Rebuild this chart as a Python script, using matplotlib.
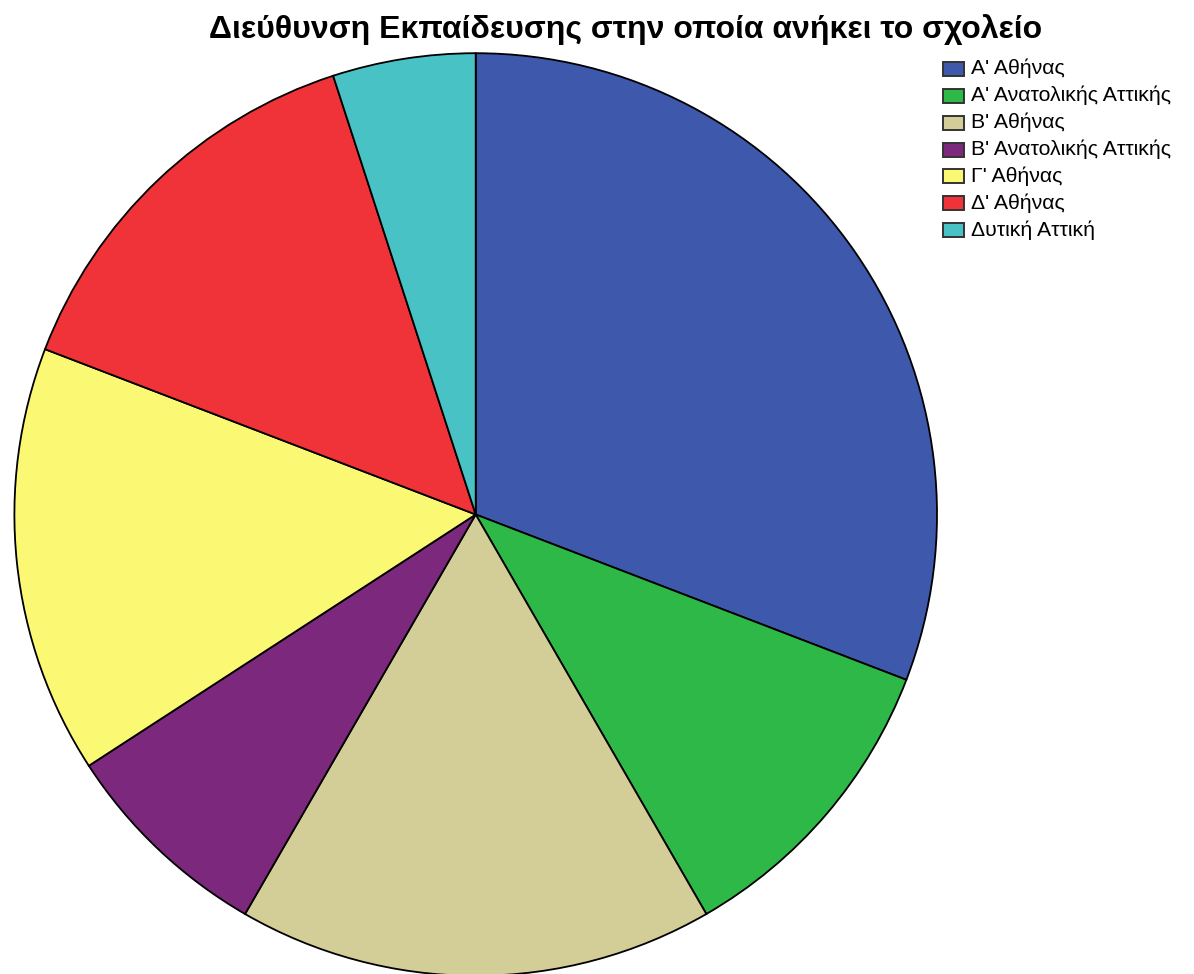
import matplotlib
matplotlib.use("Agg")
import matplotlib.pyplot as plt
from matplotlib.patches import Rectangle

plt.rcParams['font.family'] = ['Liberation Sans', 'DejaVu Sans']

categories = ["Α' Αθήνας", "Α' Ανατολικής Αττικής", "Β' Αθήνας",
              "Β' Ανατολικής Αττικής", "Γ' Αθήνας", "Δ' Αθήνας", "Δυτική Αττική"]
counts = [37, 13, 20, 9, 18, 17, 6]
colors = ["#3E58AC", "#2EB848", "#D3CE97", "#7C287D", "#FBF873", "#EF3338", "#48C2C5"]
title = "Διεύθυνση Εκπαίδευσης στην οποία ανήκει το σχολείο"

W, H = 1194, 974
fig = plt.figure(figsize=(W / 100, H / 100), dpi=100)


def fx(px):
    return px / W


def fy(py):
    return 1 - py / H


# pie placed by pixel geometry: centre and radius
cx, cy, r = 475.7, 514.5, 461.3
ax = fig.add_axes([fx(cx - r), fy(cy + r), 2 * r / W, 2 * r / H])
ax.pie(counts, colors=colors, startangle=90, counterclock=False, radius=1,
       wedgeprops=dict(edgecolor="black", linewidth=1.3))
ax.set_xlim(-1, 1)
ax.set_ylim(-1, 1)
ax.set_aspect("auto")
ax.axis("off")

fig.text(fx(625.5), fy(38), title, ha="center", va="baseline",
         fontsize=23.0, fontweight="bold")

# legend: swatch column plus labels
row0, step = 69.0, 26.85
sw_x0, sw_x1, sw_h = 943.5, 964, 14
for i, (lab, col) in enumerate(zip(categories, colors)):
    yc = row0 + i * step
    fig.patches.append(Rectangle((fx(sw_x0), fy(yc + sw_h / 2)),
                                 (sw_x1 - sw_x0) / W, sw_h / H,
                                 transform=fig.transFigure, facecolor=col,
                                 edgecolor="#333333", linewidth=1.4))
    fig.text(fx(971), fy(yc + 5.5), lab, ha="left", va="baseline", fontsize=15.3)

fig.savefig("out.png", dpi=100)
